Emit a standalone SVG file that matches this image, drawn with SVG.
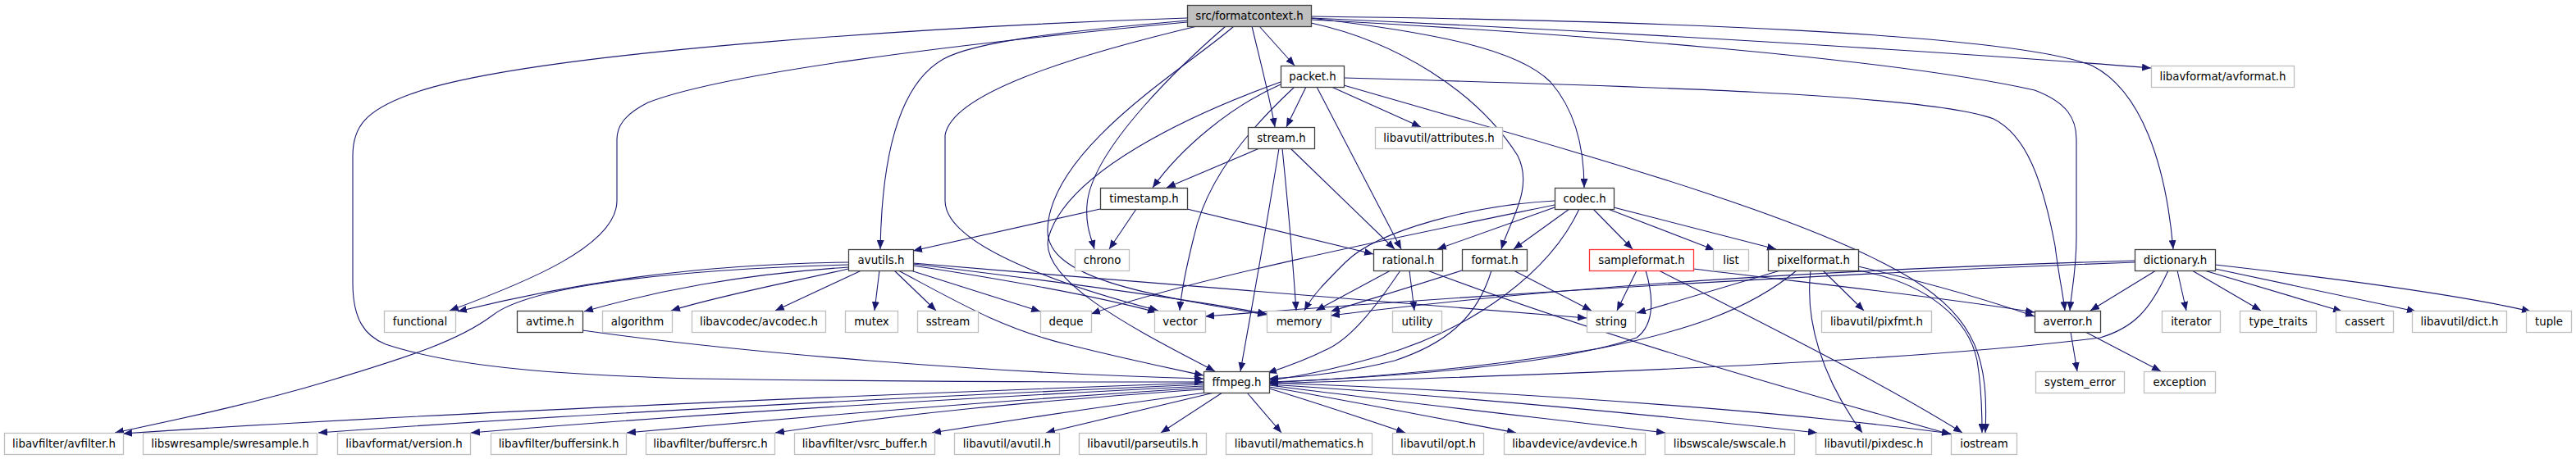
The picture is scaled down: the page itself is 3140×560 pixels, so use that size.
<svg xmlns="http://www.w3.org/2000/svg" width="3140" height="560" viewBox="0 0 3140 560">
<style>
text{font-family:"DejaVu Sans","Liberation Sans",sans-serif;font-size:13.33px;fill:#000;text-anchor:middle}
.doc rect{fill:#fff;stroke:#404040;stroke-width:1.3}
.root rect{fill:#bfbfbf;stroke:#404040;stroke-width:1.3}
.ext rect{fill:#fff;stroke:#bfbfbf;stroke-width:1.3}
.trunc rect{fill:#fff;stroke:#ff3333;stroke-width:1.3}
#edges path{fill:none;stroke:#191970;stroke-width:1.1;marker-end:url(#arr)}
</style>
<defs>
<marker id="arr" markerUnits="userSpaceOnUse" markerWidth="11" markerHeight="9" refX="11" refY="4.5" orient="auto">
<path d="M0,0 L11,4.5 L0,9 z" fill="#191970"/>
</marker>
</defs>
<rect width="3140" height="560" fill="#fff"/>
<g id="edges">
<!-- root -->
<path d="M1447,22 C1200,30 650,60 500,115 C445,135 430,155 430,190 L430,345 C430,390 445,410 470,420 C560,450 700,458 850,462 C1100,466 1300,466 1467,466"/>
<path d="M1447,27 C1150,55 880,90 790,125 C760,140 752,155 752,170 L752,245 C752,300 640,345 548,379"/>
<path d="M1448,25 C1300,38 1190,50 1150,72 C1100,100 1075,180 1073,304"/>
<path d="M1459,32 C1300,70 1160,115 1152,165 L1152,245 C1152,300 1300,350 1412,379"/>
<path d="M1494,32 C1450,70 1330,180 1325,250 C1323,275 1330,290 1334,304"/>
<path d="M1504,32 C1450,80 1280,180 1277,280 C1275,340 1400,360 1544,384"/>
<path d="M1526,32 C1535,70 1548,120 1554,155"/>
<path d="M1535,32 L1578,80"/>
<path d="M1598,28 C1700,50 1800,110 1850,190 C1870,230 1840,270 1830,304"/>
<path d="M1598,22 C1750,40 1850,60 1890,100 C1925,140 1931,190 1931,229"/>
<path d="M1598,20 C2000,25 2450,40 2550,80 C2610,110 2640,200 2649,304"/>
<path d="M1598,22 C2000,40 2400,65 2622,83"/>
<path d="M1598,24 C1900,40 2300,70 2480,110 C2520,125 2531,145 2531,170 L2531,290 C2531,330 2525,355 2523,379"/>
<!-- packet -->
<path d="M1592,106 L1568,155"/>
<path d="M1623,106 L1732,155"/>
<path d="M1605,106 L1708,304"/>
<path d="M1561,103 C1500,130 1440,180 1405,229"/>
<path d="M1578,106 C1520,160 1470,220 1455,290 C1445,330 1440,355 1438,379"/>
<path d="M1561,100 C1450,140 1300,210 1278,290 C1265,345 1400,410 1481,453"/>
<path d="M1638,95 C2000,105 2350,115 2430,145 C2470,165 2490,220 2505,300 C2510,340 2515,360 2517,379"/>
<path d="M1638,104 C1900,180 2200,260 2330,340 C2410,390 2424,440 2420,528"/>
<!-- stream -->
<path d="M1535,181 L1422,229"/>
<path d="M1559,181 C1545,270 1525,380 1512,453"/>
<path d="M1563,181 C1570,250 1576,320 1580,379"/>
<path d="M1573,181 L1700,304"/>
<!-- timestamp -->
<path d="M1341,255 L1113,306"/>
<path d="M1385,255 L1352,304"/>
<path d="M1447,255 L1674,310"/>
<!-- codec -->
<path d="M1895,253 L1752,304"/>
<path d="M1913,255 L1845,304"/>
<path d="M1895,245 C1800,250 1680,280 1640,320 C1615,345 1600,360 1590,379"/>
<path d="M1895,250 C1750,280 1450,340 1330,383"/>
<path d="M1925,255 C1890,330 1800,400 1680,435 C1620,452 1580,460 1547,464"/>
<path d="M1942,255 L1990,304"/>
<path d="M1960,255 L2090,305"/>
<path d="M1967,253 L2165,304"/>
<!-- avutils -->
<path d="M1034,320 C850,322 700,345 558,380"/>
<path d="M1034,323 C850,328 650,345 600,385 C560,415 500,435 400,465 C300,495 200,515 140,528"/>
<path d="M1034,326 C900,335 800,355 712,380"/>
<path d="M1034,328 C960,345 880,360 818,379"/>
<path d="M1050,330 L945,379"/>
<path d="M1072,330 L1066,379"/>
<path d="M1090,330 L1141,379"/>
<path d="M1110,330 L1268,380"/>
<path d="M1113,324 C1250,345 1350,365 1410,381"/>
<path d="M1113,322 C1300,345 1450,365 1544,383"/>
<path d="M1113,321 C1400,345 1700,370 1934,388"/>
<path d="M1095,330 C1170,370 1220,400 1300,420 C1380,440 1430,450 1467,458"/>
<!-- avtime -->
<path d="M710,403 C900,430 1200,455 1467,462"/>
<!-- rational -->
<path d="M1695,330 L1604,379"/>
<path d="M1718,330 L1724,379"/>
<path d="M1707,330 C1680,370 1650,410 1620,425 C1590,440 1570,447 1545,455"/>
<path d="M1740,330 C1950,410 2200,480 2378,530"/>
<!-- format -->
<path d="M1782,330 C1720,350 1670,365 1622,380"/>
<path d="M1845,330 L1940,379"/>
<path d="M1818,330 C1800,390 1760,420 1700,440 C1640,455 1590,460 1547,462"/>
<!-- sampleformat -->
<path d="M1995,330 L1971,379"/>
<path d="M2006,330 C2015,360 2018,395 1995,412 C1900,445 1700,460 1547,466"/>
<path d="M2064,328 C2200,345 2350,360 2480,381"/>
<path d="M2022,330 C2150,395 2300,470 2392,528"/>
<!-- pixelformat -->
<path d="M2170,330 L1995,382"/>
<path d="M2190,330 C2130,380 2050,405 1950,425 C1800,450 1650,462 1547,467"/>
<path d="M2222,330 L2272,379"/>
<path d="M2207,330 C2200,390 2220,460 2270,528"/>
<path d="M2265,325 C2350,345 2420,365 2480,386"/>
<path d="M2265,330 C2350,345 2400,390 2410,440 C2415,470 2416,500 2416,528"/>
<!-- dictionary -->
<path d="M2602,320 C2200,335 1800,360 1469,386"/>
<path d="M2602,318 C2200,330 1900,350 1622,385"/>
<path d="M2628,330 L2548,379"/>
<path d="M2643,330 C2620,380 2600,400 2560,412 C2300,445 1800,460 1547,468"/>
<path d="M2654,330 L2665,379"/>
<path d="M2672,330 L2756,379"/>
<path d="M2687,330 L2855,380"/>
<path d="M2700,328 L2945,380"/>
<path d="M2700,323 C2850,340 3000,360 3085,380"/>
<!-- averror -->
<path d="M2524,405 L2532,453"/>
<path d="M2542,405 L2634,453"/>
<!-- ffmpeg -->
<path d="M1467,467 C1100,480 500,505 150,529"/>
<path d="M1467,469 C1100,485 700,505 388,528"/>
<path d="M1467,471 C1150,487 850,505 574,528"/>
<path d="M1467,473 C1200,490 1000,507 764,528"/>
<path d="M1467,475 C1250,490 1100,505 945,528"/>
<path d="M1470,479 C1350,495 1250,510 1136,528"/>
<path d="M1480,479 L1275,528"/>
<path d="M1490,479 L1415,528"/>
<path d="M1520,479 L1562,528"/>
<path d="M1547,474 C1600,490 1660,510 1713,528"/>
<path d="M1547,472 C1650,490 1750,510 1848,528"/>
<path d="M1547,470 C1700,490 1880,510 2030,528"/>
<path d="M1547,469 C1800,485 2050,510 2215,528"/>
<path d="M1547,467 C1900,480 2200,505 2378,529"/>
</g>
<g id="n_root" class="root"><rect x="1447.5" y="6.5" width="151" height="26"/><text x="1523" y="24">src/formatcontext.h</text></g>
<g id="n_packet" class="doc"><rect x="1561.5" y="80.5" width="77" height="26"/><text x="1600" y="98">packet.h</text></g>
<g id="n_avformat" class="ext"><rect x="2622.5" y="80.5" width="174" height="26"/><text x="2709.5" y="98">libavformat/avformat.h</text></g>
<g id="n_stream" class="doc"><rect x="1521.5" y="155.5" width="81" height="26"/><text x="1562" y="173">stream.h</text></g>
<g id="n_attributes" class="ext"><rect x="1676.5" y="155.5" width="155" height="26"/><text x="1754" y="173">libavutil/attributes.h</text></g>
<g id="n_timestamp" class="doc"><rect x="1341.5" y="229.5" width="106" height="26"/><text x="1394.5" y="247">timestamp.h</text></g>
<g id="n_codec" class="doc"><rect x="1895.5" y="229.5" width="72" height="26"/><text x="1931.5" y="247">codec.h</text></g>
<g id="n_avutils" class="doc"><rect x="1034.5" y="304.5" width="79" height="26"/><text x="1074" y="322">avutils.h</text></g>
<g id="n_chrono" class="ext"><rect x="1310.5" y="304.5" width="66" height="26"/><text x="1343.5" y="322">chrono</text></g>
<g id="n_rational" class="doc"><rect x="1674.5" y="304.5" width="84" height="26"/><text x="1716.5" y="322">rational.h</text></g>
<g id="n_format" class="doc"><rect x="1782.5" y="304.5" width="79" height="26"/><text x="1822" y="322">format.h</text></g>
<g id="n_sampleformat" class="trunc"><rect x="1937.5" y="304.5" width="127" height="26"/><text x="2001" y="322">sampleformat.h</text></g>
<g id="n_list" class="ext"><rect x="2088.5" y="304.5" width="43" height="26"/><text x="2110" y="322">list</text></g>
<g id="n_pixelformat" class="doc"><rect x="2155.5" y="304.5" width="110" height="26"/><text x="2210.5" y="322">pixelformat.h</text></g>
<g id="n_dictionary" class="doc"><rect x="2602.5" y="304.5" width="98" height="26"/><text x="2651.5" y="322">dictionary.h</text></g>
<g id="n_functional" class="ext"><rect x="468.5" y="379.5" width="87" height="26"/><text x="512" y="397">functional</text></g>
<g id="n_avtime" class="doc"><rect x="630.5" y="379.5" width="80" height="26"/><text x="670.5" y="397">avtime.h</text></g>
<g id="n_algorithm" class="ext"><rect x="734.5" y="379.5" width="85" height="26"/><text x="777" y="397">algorithm</text></g>
<g id="n_avcodec" class="ext"><rect x="843.5" y="379.5" width="163" height="26"/><text x="925" y="397">libavcodec/avcodec.h</text></g>
<g id="n_mutex" class="ext"><rect x="1030.5" y="379.5" width="64" height="26"/><text x="1062.5" y="397">mutex</text></g>
<g id="n_sstream" class="ext"><rect x="1118.5" y="379.5" width="74" height="26"/><text x="1155.5" y="397">sstream</text></g>
<g id="n_deque" class="ext"><rect x="1268.5" y="379.5" width="62" height="26"/><text x="1299.5" y="397">deque</text></g>
<g id="n_vector" class="ext"><rect x="1407.5" y="379.5" width="62" height="26"/><text x="1438.5" y="397">vector</text></g>
<g id="n_memory" class="ext"><rect x="1544.5" y="379.5" width="78" height="26"/><text x="1583.5" y="397">memory</text></g>
<g id="n_utility" class="ext"><rect x="1697.5" y="379.5" width="60" height="26"/><text x="1727.5" y="397">utility</text></g>
<g id="n_string" class="ext"><rect x="1934.5" y="379.5" width="59" height="26"/><text x="1964" y="397">string</text></g>
<g id="n_pixfmt" class="ext"><rect x="2220.5" y="379.5" width="134" height="26"/><text x="2287.5" y="397">libavutil/pixfmt.h</text></g>
<g id="n_averror" class="doc"><rect x="2480.5" y="379.5" width="80" height="26"/><text x="2520.5" y="397">averror.h</text></g>
<g id="n_iterator" class="ext"><rect x="2635.5" y="379.5" width="71" height="26"/><text x="2671" y="397">iterator</text></g>
<g id="n_type_traits" class="ext"><rect x="2730.5" y="379.5" width="93" height="26"/><text x="2777" y="397">type_traits</text></g>
<g id="n_cassert" class="ext"><rect x="2847.5" y="379.5" width="70" height="26"/><text x="2882.5" y="397">cassert</text></g>
<g id="n_dict" class="ext"><rect x="2940.5" y="379.5" width="115" height="26"/><text x="2998" y="397">libavutil/dict.h</text></g>
<g id="n_tuple" class="ext"><rect x="3079.5" y="379.5" width="55" height="26"/><text x="3107" y="397">tuple</text></g>
<g id="n_ffmpeg" class="doc"><rect x="1467.5" y="453.5" width="80" height="26"/><text x="1507.5" y="471">ffmpeg.h</text></g>
<g id="n_system_error" class="ext"><rect x="2481.5" y="453.5" width="108" height="26"/><text x="2535.5" y="471">system_error</text></g>
<g id="n_exception" class="ext"><rect x="2613.5" y="453.5" width="87" height="26"/><text x="2657" y="471">exception</text></g>
<g id="n_avfilter" class="ext"><rect x="5.5" y="528.5" width="145" height="26"/><text x="78" y="546">libavfilter/avfilter.h</text></g>
<g id="n_swresample" class="ext"><rect x="174.5" y="528.5" width="212" height="26"/><text x="280.5" y="546">libswresample/swresample.h</text></g>
<g id="n_version" class="ext"><rect x="411.5" y="528.5" width="162" height="26"/><text x="492.5" y="546">libavformat/version.h</text></g>
<g id="n_buffersink" class="ext"><rect x="598.5" y="528.5" width="165" height="26"/><text x="681" y="546">libavfilter/buffersink.h</text></g>
<g id="n_buffersrc" class="ext"><rect x="787.5" y="528.5" width="157" height="26"/><text x="866" y="546">libavfilter/buffersrc.h</text></g>
<g id="n_vsrc_buffer" class="ext"><rect x="968.5" y="528.5" width="171" height="26"/><text x="1054" y="546">libavfilter/vsrc_buffer.h</text></g>
<g id="n_avutil" class="ext"><rect x="1163.5" y="528.5" width="128" height="26"/><text x="1227.5" y="546">libavutil/avutil.h</text></g>
<g id="n_parseutils" class="ext"><rect x="1315.5" y="528.5" width="155" height="26"/><text x="1393" y="546">libavutil/parseutils.h</text></g>
<g id="n_mathematics" class="ext"><rect x="1494.5" y="528.5" width="178" height="26"/><text x="1583.5" y="546">libavutil/mathematics.h</text></g>
<g id="n_opt" class="ext"><rect x="1697.5" y="528.5" width="111" height="26"/><text x="1753" y="546">libavutil/opt.h</text></g>
<g id="n_avdevice" class="ext"><rect x="1833.5" y="528.5" width="172" height="26"/><text x="1919.5" y="546">libavdevice/avdevice.h</text></g>
<g id="n_swscale" class="ext"><rect x="2029.5" y="528.5" width="158" height="26"/><text x="2108.5" y="546">libswscale/swscale.h</text></g>
<g id="n_pixdesc" class="ext"><rect x="2213.5" y="528.5" width="141" height="26"/><text x="2284" y="546">libavutil/pixdesc.h</text></g>
<g id="n_iostream" class="ext"><rect x="2378.5" y="528.5" width="80" height="26"/><text x="2418.5" y="546">iostream</text></g>
</svg>
